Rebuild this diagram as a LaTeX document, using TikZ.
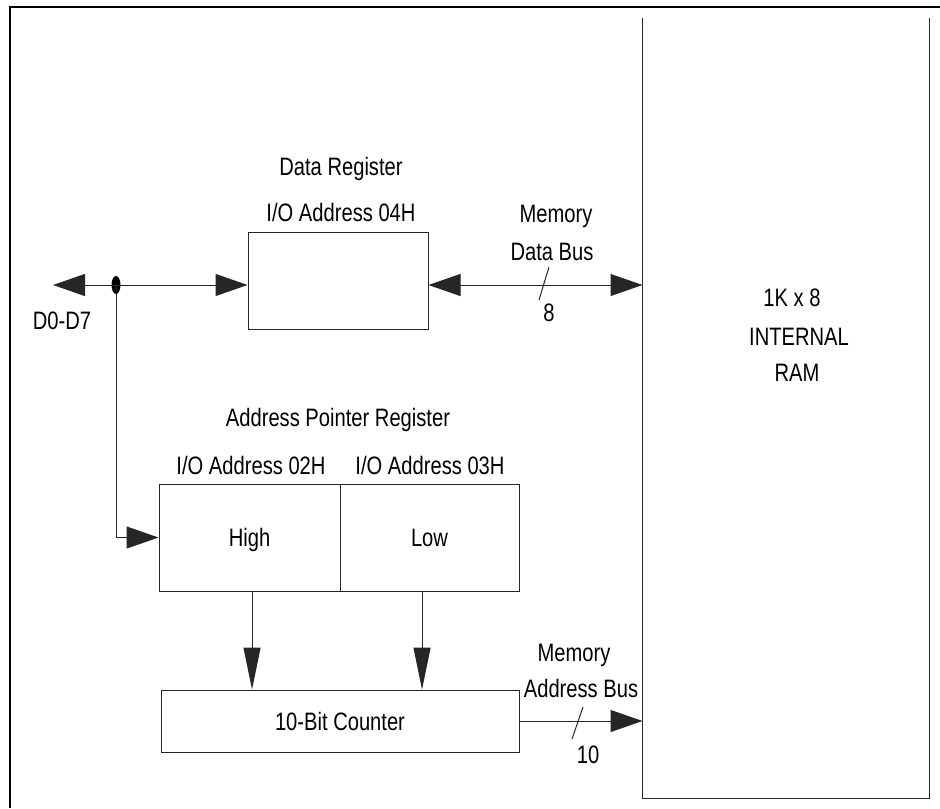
\documentclass[tikz,border=0pt]{standalone}
\usepackage{fontspec}
\setmainfont[FakeStretch=0.8]{Liberation Sans}
\usetikzlibrary{arrows.meta,shapes.geometric}

\begin{document}
\begin{tikzpicture}[x=0.75pt,y=-0.75pt,
  line width=0.75pt,draw=black!85,
  every node/.style={font=\fontsize{18.9}{22}\selectfont,inner sep=0pt,text height=13.5pt,text depth=0pt},
  reg node/.style={draw=black!85,minimum height=72.75pt},
  harrow/.style={-{Triangle[length=24pt,width=16.5pt]}},
  varrow/.style={-{Triangle[length=31.5pt,width=12.75pt]}},
  dharrow/.style={{Triangle[length=24pt,width=16.5pt]}-{Triangle[length=24pt,width=16.5pt]}}]
  \useasboundingbox (0,0) rectangle (940,808);
  \draw[line width=1.5pt,black] (10,808) -- (10,7) -- (940,7);

  % registers
  \node[reg node,minimum width=135pt] (dreg) at (338,280.5) {};
  \node[reg node,minimum width=135.75pt,minimum height=80.25pt] (high) at (249.5,537.5) {High};
  \node[reg node,minimum width=134.25pt,minimum height=80.25pt] (low) at (429.5,537.5) {Low};
  \node[reg node,minimum width=268.5pt,minimum height=46.5pt] (counter) at (340,721) {10-Bit Counter};
  \node[minimum width=214.5pt,minimum height=585pt] (ram) at (786,408) {};
  \draw (ram.north west) -- (ram.south west) -- (ram.south east) -- (ram.north east);

  \node[ellipse,fill=black,text height=0pt,minimum width=6.75pt,minimum height=13.5pt] (tap) at (116,285) {};
  \coordinate (d07tip) at (53,285);

  % labels
  \node (dregname) at (341,166) {Data Register};
  \node (dregaddr) at (341,212) {I/O Address 04H};
  \node (dbusname) at (556,213) {Memory};
  \node (dbustype) at (552,251) {Data Bus};
  \node (dbuswidth) at (549,312) {8};
  \node (d07) at (62,320) {D0-D7};
  \node (aprname) at (338,417) {Address Pointer Register};
  \node (highaddr) at (251,465) {I/O Address 02H};
  \node (lowaddr) at (430,465) {I/O Address 03H};
  \node (abusname) at (574,652) {Memory};
  \node (abustype) at (581,688) {Address Bus};
  \node (abuswidth) at (588,754) {10};
  \node (ramsize) at (792,297) {1K x 8};
  \node (ramkind) at (799,336) {INTERNAL};
  \node (ramname) at (797,372) {RAM};

  % buses
  \draw[harrow] (tap.center) -- (d07tip);
  \draw[harrow] (tap.center) -- (tap -| dreg.west);
  \draw[dharrow] (tap -| dreg.east) -- (tap -| ram.west);
  \draw[harrow] (tap.center) |- (high.west);
  \draw[varrow] ([xshift=1.9pt]high.south) -- ([xshift=1.9pt]high.south |- counter.north);
  \draw[varrow] ([xshift=-5.6pt]low.south) -- ([xshift=-5.6pt]low.south |- counter.north);
  \draw[harrow] (counter.east) -- (counter.east -| ram.west);
  \draw (549,267) -- (539,300);
  \draw (583,707) -- (572,739);
\end{tikzpicture}
\end{document}
